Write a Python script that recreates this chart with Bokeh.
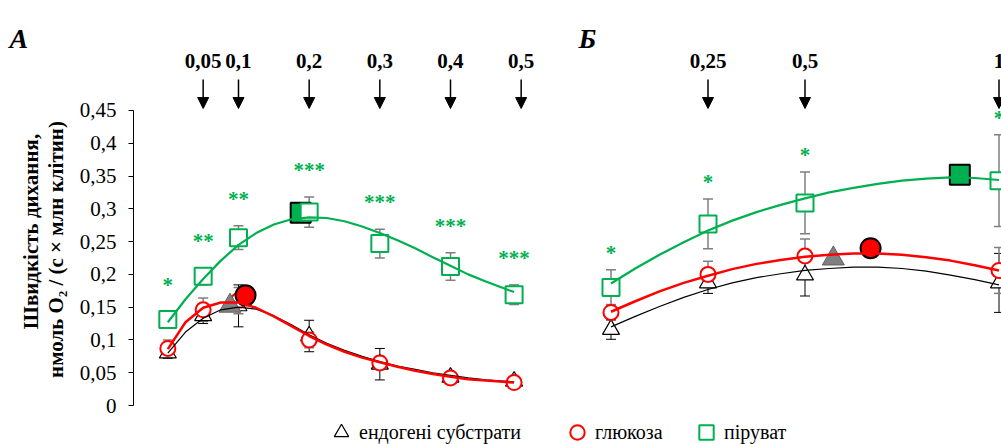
import numpy as np
from bokeh.plotting import figure
from bokeh.models import (Range1d, FixedTicker, ColumnDataSource, Whisker, TeeHead,
                          Arrow, NormalHead, Label, Legend, LegendItem)
from bokeh.core.properties import value
from bokeh.embed import file_html
from bokeh.resources import INLINE

# ---------------- data ----------------
# Panel A (concentrations, mM)
conc_a = [0, 0.05, 0.1, 0.2, 0.3, 0.4, 0.49]
endo_a = [0.080, 0.137, 0.152, 0.106, 0.063, 0.043, 0.037]
endo_a_err = [0.008, 0.012, 0.032, 0.024, 0.024, 0.006, 0.005]
glu_a = [0.087, 0.146, 0.160, 0.100, 0.065, 0.042, 0.035]
glu_a_err = [0.013, 0.018, 0.020, 0.012, 0.010, 0.005, 0.004]
pyr_a = [0.131, 0.197, 0.256, 0.295, 0.247, 0.212, 0.169]
pyr_a_err = [0.012, 0.013, 0.018, 0.023, 0.022, 0.021, 0.015]
stars_a = ["*", "**", "**", "***", "***", "***", "***"]

# fitted curves, panel A
fit_a_c = [0, 0.025, 0.05, 0.075, 0.1, 0.125, 0.15, 0.175, 0.2, 0.225, 0.25,
           0.275, 0.3, 0.325, 0.35, 0.375, 0.4, 0.425, 0.45, 0.49]
fit_a_pyr = [0.127, 0.162, 0.193, 0.221, 0.245, 0.263, 0.276, 0.284, 0.287, 0.286, 0.281,
             0.273, 0.263, 0.252, 0.240, 0.226, 0.213, 0.200, 0.189, 0.173]
fit_a_glu = [0.086, 0.127, 0.149, 0.157, 0.157, 0.149, 0.136, 0.121, 0.106, 0.093, 0.082,
             0.073, 0.066, 0.059, 0.053, 0.048, 0.044, 0.040, 0.038, 0.035]
fit_a_endo = [0.080, 0.112, 0.133, 0.146, 0.150, 0.147, 0.137, 0.123, 0.108, 0.095, 0.084,
              0.075, 0.067, 0.060, 0.055, 0.050, 0.046, 0.042, 0.039, 0.036]

# maxima, panel A
max_a_c = {"endo": 0.088, "glu": 0.110, "pyr": 0.188}
max_a_v = {"endo": 0.152, "glu": 0.168, "pyr": 0.294}

# Panel B
conc_b = [0, 0.25, 0.5, 1.0]
endo_b = [0.116, 0.187, 0.199, 0.187]
endo_b_err = [0.015, 0.016, 0.032, 0.045]
glu_b = [0.142, 0.200, 0.228, 0.206]
glu_b_err = [0.012, 0.020, 0.026, 0.035]
pyr_b = [0.180, 0.277, 0.309, 0.343]
pyr_b_err = [0.027, 0.038, 0.047, 0.070]
stars_b = ["*", "*", "*", "*"]

fit_b_c = [0, 0.0625, 0.125, 0.1875, 0.25, 0.3125, 0.375, 0.4375, 0.5, 0.5625, 0.625,
           0.6875, 0.75, 0.8125, 0.875, 0.9375, 1.0]
fit_b_pyr = [0.186, 0.209, 0.230, 0.249, 0.267, 0.282, 0.295, 0.306, 0.316, 0.325, 0.332,
             0.338, 0.343, 0.346, 0.348, 0.347, 0.344]
fit_b_glu = [0.143, 0.159, 0.174, 0.187, 0.198, 0.208, 0.216, 0.222, 0.227, 0.230, 0.232,
             0.232, 0.230, 0.226, 0.221, 0.214, 0.206]
fit_b_endo = [0.120, 0.136, 0.151, 0.165, 0.177, 0.187, 0.195, 0.201, 0.206, 0.209, 0.211,
              0.211, 0.209, 0.205, 0.199, 0.192, 0.184]

max_b_c = {"endo": 0.573, "glu": 0.669, "pyr": 0.899}
max_b_v = {"endo": 0.224, "glu": 0.240, "pyr": 0.352}

# arrows (added concentrations)
arrows_a = [0.05, 0.1, 0.2, 0.3, 0.4, 0.5]
arrows_a_lbl = ["0,05", "0,1", "0,2", "0,3", "0,4", "0,5"]
arrows_b = [0.25, 0.5, 1.0]
arrows_b_lbl = ["0,25", "0,5", "1"]

y_ticks = [0, 0.05, 0.1, 0.15, 0.2, 0.25, 0.3, 0.35, 0.4, 0.45]
y_tick_labels = ["0", "0,05", "0,1", "0,15", "0,2", "0,25", "0,3", "0,35", "0,4", "0,45"]

legend_labels = ["ендогені субстрати", "глюкоза", "піруват"]
y_label_lines = ["Швидкість дихання,", "нмоль O\u2082 / (с \u00d7 млн клітин)"]

# ---------------- layout helpers (picture pixel -> data units) ----------------
W, H = 1001, 444
AXIS_X = 133
Y0_PX, Y_SCALE = 405.0, 655.6
XA0_PX, XA_SCALE = 167.33, 706.67
XB0_PX, XB_SCALE = 610.5, 388.0


def ya(py):
    return (Y0_PX - py) / Y_SCALE


def xa(px):
    return (px - XA0_PX) / XA_SCALE


def xb(px):
    return (px - XB0_PX) / XB_SCALE


GREEN = "#00B050"
RED = "#FF0000"
GRAY = "#7F7F7F"
SERIF = "Liberation Serif"

p = figure(width=W, height=H, output_backend="svg", toolbar_location=None,
           x_range=Range1d(xa(0), xa(W)),
           y_range=Range1d(ya(H), ya(0)),
           x_axis_location=None, y_axis_location="left",
           min_border_left=0, min_border_right=0,
           min_border_top=0, min_border_bottom=0)
p.extra_x_ranges = {"b": Range1d(xb(0), xb(W))}
p.outline_line_color = None
p.xgrid.visible = False
p.ygrid.visible = False
p.background_fill_color = "white"
p.border_fill_color = "white"

yax = p.yaxis[0]
yax.fixed_location = xa(AXIS_X)
yax.ticker = FixedTicker(ticks=y_ticks)
yax.major_label_overrides = dict(zip(y_ticks, y_tick_labels))
yax.bounds = (0, 0.45)
yax.minor_tick_line_color = None
yax.major_tick_in = 0
yax.major_tick_out = 5
yax.major_tick_line_color = "black"
yax.axis_line_color = "black"
yax.major_label_standoff = 12
yax.major_label_text_font = SERIF
yax.major_label_text_font_size = "21px"
yax.major_label_text_color = "black"


def panel(conc, endo, endo_err, glu, glu_err, pyr, pyr_err, stars, star_off,
          fit_c, fit_endo, fit_glu, fit_pyr, mx_c, mx_v, rname):
    kw = {} if rname is None else {"x_range_name": rname}
    conc = np.array(conc, dtype=float)
    # error bars
    for v, e, col, lw in ((endo, endo_err, "black", 1),
                          (glu, glu_err, GRAY, 1.5),
                          (pyr, pyr_err, GRAY, 1.5)):
        v = np.array(v); e = np.array(e)
        src = ColumnDataSource(dict(x=conc, upper=v + e, lower=v - e))
        w = Whisker(source=src, base="x", upper="upper", lower="lower", dimension="height",
                    line_color=col, line_width=lw, level="underlay",
                    upper_head=TeeHead(size=10, line_color=col, line_width=lw),
                    lower_head=TeeHead(size=10, line_color=col, line_width=lw), **kw)
        p.add_layout(w)
    # data points (open)
    r_endo = p.scatter(conc, endo, marker="triangle", size=17, fill_color="white",
                       line_color="black", line_width=1.2, **kw)
    r_glu = p.scatter(conc, glu, marker="circle", size=15, fill_color="white",
                      line_color=RED, line_width=2, **kw)
    # maxima (filled)
    p.scatter([mx_c["endo"]], [mx_v["endo"]], marker="triangle", size=22,
              fill_color="#808080", line_color="#606060", line_width=1, **kw)
    p.scatter([mx_c["glu"]], [mx_v["glu"]], marker="circle", size=20,
              fill_color=RED, line_color="black", line_width=2, **kw)
    p.scatter([mx_c["pyr"]], [mx_v["pyr"]], marker="square", size=20,
              fill_color=GREEN, line_color="black", line_width=2, **kw)
    r_pyr = p.scatter(conc, pyr, marker="square", size=17, fill_color="white",
                      line_color=GREEN, line_width=2, **kw)
    # fitted curves
    p.line(fit_c, fit_endo, line_color="black", line_width=1.2, **kw)
    p.line(fit_c, fit_glu, line_color=RED, line_width=2.5, **kw)
    p.line(fit_c, fit_pyr, line_color=GREEN, line_width=2.2, **kw)
    # significance stars
    tops = np.array(pyr) + np.array(pyr_err)
    p.text(conc, tops, text=stars, text_font=value(SERIF), text_font_style="bold",
           text_font_size="21px", text_color=GREEN, text_align="center",
           text_baseline="middle", y_offset=star_off, **kw)
    return r_endo, r_glu, r_pyr


r_endo, r_glu, r_pyr = panel(conc_a, endo_a, endo_a_err, glu_a, glu_a_err, pyr_a, pyr_a_err,
                             stars_a, -27, fit_a_c, fit_a_endo, fit_a_glu, fit_a_pyr,
                             max_a_c, max_a_v, None)
panel(conc_b, endo_b, endo_b_err, glu_b, glu_b_err, pyr_b, pyr_b_err,
      stars_b, -17, fit_b_c, fit_b_endo, fit_b_glu, fit_b_pyr, max_b_c, max_b_v, "b")

# arrows with concentration labels
for xs, lbls, rname in ((arrows_a, arrows_a_lbl, None), (arrows_b, arrows_b_lbl, "b")):
    kw = {} if rname is None else {"x_range_name": rname}
    src = ColumnDataSource(dict(x=xs, y0=[ya(79)] * len(xs), y1=[ya(108)] * len(xs)))
    p.add_layout(Arrow(source=src, x_start="x", y_start="y0", x_end="x", y_end="y1",
                       line_color="black", line_width=1.5,
                       end=NormalHead(size=11, fill_color="black", line_color="black",
                                      line_width=1), **kw))
    p.text(xs, [ya(60.5)] * len(xs), text=lbls, text_font=value(SERIF),
           text_font_style="bold", text_font_size="21px", text_color="black",
           text_align="center", text_baseline="middle", **kw)

# panel letters
p.add_layout(Label(x=xa(9), y=ya(38), text="А", text_font=SERIF,
                   text_font_style="bold italic", text_font_size="28px",
                   text_color="black", text_baseline="alphabetic"))
p.add_layout(Label(x=xb(578), y=ya(38), text="Б", x_range_name="b", text_font=SERIF,
                   text_font_style="bold italic", text_font_size="28px",
                   text_color="black", text_baseline="alphabetic"))

# y-axis title (two lines)
for px, py, txt in ((30, 231, y_label_lines[0]), (55, 249, y_label_lines[1])):
    p.add_layout(Label(x=xa(px), y=ya(py), text=txt, angle=np.pi / 2,
                       text_font=SERIF, text_font_style="bold", text_font_size="21px",
                       text_color="black", text_align="center", text_baseline="middle"))

# legend (three single-item legends to reproduce uneven spacing)
for r, lbl, cx in ((r_endo, legend_labels[0], 341), (r_glu, legend_labels[1], 577),
                   (r_pyr, legend_labels[2], 706)):
    lg = Legend(items=[LegendItem(label=lbl, renderers=[r])],
                location=(cx - 18, H - 432 - 18),
                orientation="horizontal", padding=0, margin=0, spacing=0,
                glyph_width=36, glyph_height=36, label_standoff=-9,
                label_text_font=SERIF, label_text_font_size="20px",
                label_text_color="black", border_line_alpha=0,
                background_fill_alpha=0)
    p.add_layout(lg)

open("out.html", "w").write(file_html(p, INLINE))
